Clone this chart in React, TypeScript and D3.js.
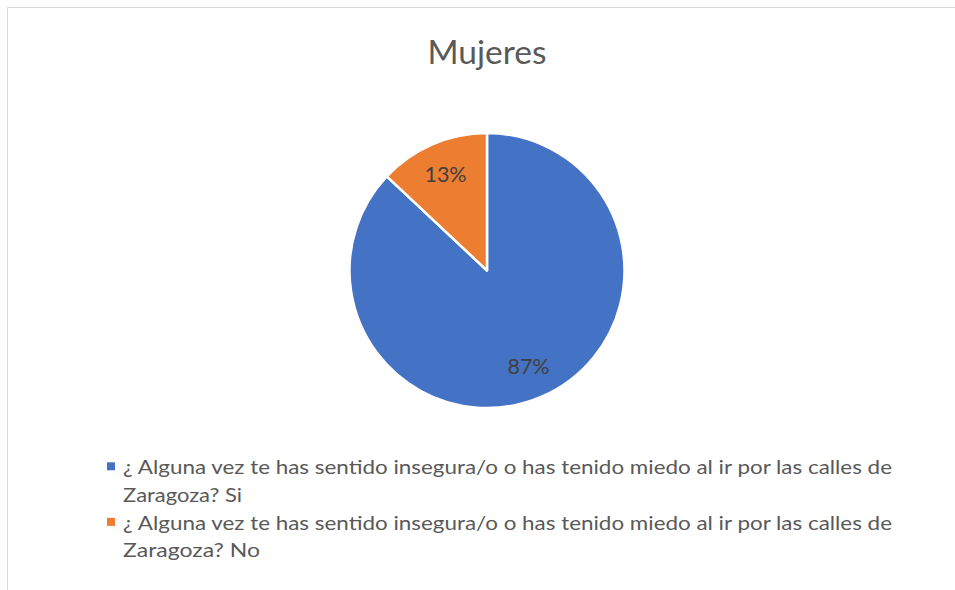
import React from 'react';
import * as d3 from 'd3';

const title = 'Mujeres';
const categories = ['Si', 'No'];
const values = [87, 13];
const colors = ['#4472C4', '#ED7D31'];
const legendLines = [
  ['¿ Alguna vez te has sentido insegura/o o has tenido miedo al ir por las calles de', 'Zaragoza? Si'],
  ['¿ Alguna vez te has sentido insegura/o o has tenido miedo al ir por las calles de', 'Zaragoza? No'],
];
const legendLineWidths = [
  [769, 119],
  [769, 137],
];

const W = 955;
const H = 590;
const FONT = "Lato, 'Open Sans', 'Liberation Sans', sans-serif";
const TEXT = '#595959';

export default function App() {
  const cx = 487;
  const cy = 270.5;
  const R = 137.5;
  const total = d3.sum(values);
  const pie = d3.pie<number>().sort(null).value((d) => d)(values);
  const arc = d3.arc<d3.PieArcDatum<number>>().innerRadius(0).outerRadius(R);
  const labelArc = d3.arc<d3.PieArcDatum<number>>().innerRadius(R * 0.76).outerRadius(R * 0.76);

  const legendX = 107;
  const textX = 123;
  const firstBaseline = 474;
  const linePitch = 27.8;

  let lineIdx = 0;
  return (
    <svg
      width={W}
      height={H}
      style={{ position: 'absolute', left: 0, top: 0, background: '#fff' }}
    >
      <rect x={0} y={0} width={W} height={H} fill="#fff" />
      <line x1={7.5} y1={7.5} x2={W} y2={7.5} stroke="#d9d9d9" strokeWidth={1} />
      <line x1={7.5} y1={7.5} x2={7.5} y2={H} stroke="#d9d9d9" strokeWidth={1} />
      <text
        x={cx}
        y={63.5}
        textAnchor="middle"
        fontFamily={FONT}
        fontSize={33.5}
        fill={TEXT}
      >
        {title}
      </text>
      <g transform={`translate(${cx},${cy})`}>
        {pie.map((p, i) => (
          <path
            key={categories[i]}
            d={arc(p) || ''}
            fill={colors[i]}
            stroke="#fff"
            strokeWidth={2.5}
            strokeLinejoin="round"
          />
        ))}
        {pie.map((p, i) => {
          const [lx, ly] = labelArc.centroid(p);
          return (
            <text
              key={'l' + i}
              x={lx}
              y={ly}
              dy="0.35em"
              textAnchor="middle"
              fontFamily={FONT}
              fontSize={21.5}
              fill="#404040"
            >
              {d3.format('.0%')(p.data / total)}
            </text>
          );
        })}
      </g>
      <g>
        {legendLines.map((lines, i) => {
          const startIdx = lineIdx;
          lineIdx += lines.length;
          const by = firstBaseline + startIdx * linePitch;
          return (
            <g key={'lg' + i}>
              <rect
                x={legendX}
                y={by - 11.7}
                width={8}
                height={8}
                fill={colors[i]}
              />
              {lines.map((t, j) => (
                <text
                  key={j}
                  x={textX}
                  y={by + j * linePitch}
                  fontFamily={FONT}
                  fontSize={19}
                  fill={TEXT}
                  textLength={legendLineWidths[i][j]}
                  lengthAdjust="spacingAndGlyphs"
                >
                  {t}
                </text>
              ))}
            </g>
          );
        })}
      </g>
    </svg>
  );
}
